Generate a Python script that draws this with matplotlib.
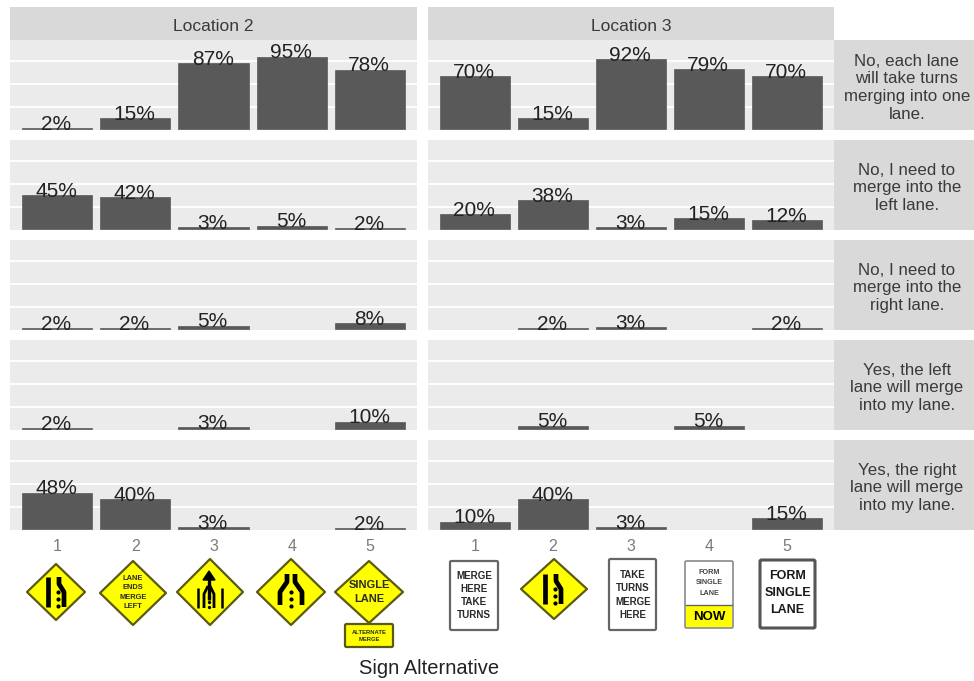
import matplotlib
matplotlib.use("Agg")
import matplotlib.pyplot as plt
from matplotlib.patches import Polygon, Rectangle, FancyBboxPatch

plt.rcParams['font.family'] = ['Liberation Sans', 'DejaVu Sans']

W, H = 974, 681
categories = [1, 2, 3, 4, 5]
locations = ["Location 2", "Location 3"]
responses = [
    "No, each lane\nwill take turns\nmerging into one\nlane.",
    "No, I need to\nmerge into the\nleft lane.",
    "No, I need to\nmerge into the\nright lane.",
    "Yes, the left\nlane will merge\ninto my lane.",
    "Yes, the right\nlane will merge\ninto my lane.",
]
loc2_each = [2, 15, 87, 95, 78]
loc2_left = [45, 42, 3, 5, 2]
loc2_right = [2, 2, 5, None, 8]
loc2_yes_left = [2, None, 3, None, 10]
loc2_yes_right = [48, 40, 3, None, 2]
loc3_each = [70, 15, 92, 79, 70]
loc3_left = [20, 38, 3, 15, 12]
loc3_right = [None, 2, 3, None, 2]
loc3_yes_left = [None, 5, None, 5, None]
loc3_yes_right = [10, 40, 3, None, 15]
grid_values = [30, 60, 90]

table = [
    [loc2_each, loc2_left, loc2_right, loc2_yes_left, loc2_yes_right],
    [loc3_each, loc3_left, loc3_right, loc3_yes_left, loc3_yes_right],
]

fig = plt.figure(figsize=(W / 100, H / 100), dpi=100, facecolor='white')


def px_axes(x0, y0, x1, y1, **kw):
    return fig.add_axes([x0 / W, 1 - y1 / H, (x1 - x0) / W, (y1 - y0) / H], **kw)


col_x = [(10, 417), (428, 834)]
row_y = [(40, 130), (140, 230), (240, 330), (340, 430), (440, 530)]
STRIP = '#D9D9D9'

for c, (x0, x1) in enumerate(col_x):
    s = px_axes(x0, 7, x1, 40, facecolor=STRIP)
    s.set_xticks([]); s.set_yticks([])
    for sp in s.spines.values():
        sp.set_visible(False)
    s.text(0.5, 0.41, locations[c], transform=s.transAxes, ha='center', va='center',
           fontsize=12.5, color='#3a3a3a')
    for r, (y0, y1) in enumerate(row_y):
        ax = px_axes(x0, y0, x1, y1, facecolor='#EBEBEB')
        vals = table[c][r]
        xs = [k for k, v in zip(categories, vals) if v is not None]
        ys = [v for v in vals if v is not None]
        ax.set_axisbelow(True)
        ax.bar(xs, ys, width=0.9, color='#595959', edgecolor='#595959', linewidth=0.5)
        for x, v in zip(xs, ys):
            ax.annotate(f"{v}%", (x, v), xytext=(-0.6, -1.2), textcoords='offset points',
                        ha='center', va='baseline', fontsize=15, color='#222222')
        ax.set_xlim(0.4, 5.6)
        ax.set_ylim(-0.7, 116.9)
        ax.set_yticks(grid_values)
        ax.tick_params(axis='y', length=0, labelleft=False)
        ax.grid(axis='y', color='white', lw=1.3)
        ax.grid(axis='x', visible=False)
        for sp in ax.spines.values():
            sp.set_visible(False)
        if r == 4:
            ax.set_xticks(categories)
            ax.set_xticklabels([str(k) for k in categories])
            ax.tick_params(axis='x', length=0, pad=6.5, labelsize=11.5, labelcolor='#7a7a7a')
        else:
            ax.set_xticks([])

for r, (y0, y1) in enumerate(row_y):
    s = px_axes(834, y0, 974, y1, facecolor=STRIP)
    s.set_xticks([]); s.set_yticks([])
    for sp in s.spines.values():
        sp.set_visible(False)
    s.text(0.52, 0.47, responses[r], transform=s.transAxes, ha='center', va='center',
           fontsize=12.2, color='#3a3a3a', linespacing=1.22)

fig.text(429 / W, 1 - 668 / H, "Sign Alternative", ha='center', va='center',
         fontsize=14.5, color='#222222')

# Sign artwork, drawn in pixel coordinates on a transparent overlay
ov = fig.add_axes([0, 0, 1, 1], facecolor='none', zorder=10)
ov.set_xlim(0, W); ov.set_ylim(H, 0); ov.axis('off')
YEL = '#FFFF00'
EDGE = '#5A5A14'


def diamond(cx, cy, hw, hh):
    ov.add_patch(Polygon([(cx - hw, cy), (cx, cy - hh), (cx + hw, cy), (cx, cy + hh)],
                         closed=True, fc=YEL, ec=EDGE, lw=1.6, joinstyle='round'))


def board(x0, y0, x1, y1, fc='white', ec='#666666', lw=1.6):
    ov.add_patch(FancyBboxPatch((x0 + 1, y0 + 1), x1 - x0 - 2, y1 - y0 - 2,
                                boxstyle='round,pad=1,rounding_size=1.5', fc=fc, ec=ec, lw=lw))


def words(x, y, s, size, color='#2a2a2a', ls=1.15, weight='bold'):
    ov.text(x, y, s, ha='center', va='center', fontsize=size, fontweight=weight,
            color=color, linespacing=ls)


def line(pts, lw=3.4):
    ov.plot([p[0] for p in pts], [p[1] for p in pts], color='black', lw=lw,
            solid_capstyle='butt', solid_joinstyle='round')


def dots(x, ys, ms=3.0):
    ov.plot([x] * len(ys), ys, ls='none', marker='o', ms=ms, color='black', mew=0)


def merge_glyph(cx, cy):
    line([(cx - 8, cy - 15), (cx - 8, cy + 15)])
    line([(cx + 3, cy - 15), (cx + 3, cy - 8), (cx + 8, cy), (cx + 8, cy + 15)])
    dots(cx + 1.5, [cy, cy + 7, cy + 14])


# Location 2
diamond(56, 592, 29, 28)
merge_glyph(56, 592)

diamond(133, 593, 33, 32)
words(133, 592.5, "LANE\nENDS\nMERGE\nLEFT", 5.4, ls=1.45)

diamond(210, 592, 33, 33)
line([(209, 600), (209, 578)], lw=2.4)
ov.add_patch(Polygon([(203, 580), (209, 571), (215, 580)], closed=True, fc='black', ec='black'))
line([(198, 588), (198, 608)], lw=1.8)
line([(222, 588), (222, 608)], lw=1.8)
line([(204, 608), (204, 594), (208, 586)], lw=2.0)
line([(214, 608), (214, 594), (210, 586)], lw=2.0)
dots(209, [597, 602, 607], ms=2.4)

diamond(291, 592, 34, 33)
line([(280, 605), (280, 592), (287, 582), (287, 574)])
line([(302, 605), (302, 592), (295, 582), (295, 574)])
dots(291, [592, 599, 606])

diamond(369, 592, 34, 31)
words(369, 592, "SINGLE\nLANE", 8.0, ls=1.4)
board(345, 624, 393, 647, fc=YEL, ec=EDGE, lw=1.6)
words(369, 636, "ALTERNATE\nMERGE", 4.2, ls=1.35)

# Location 3
board(450, 561, 498, 630)
words(474, 595.5, "MERGE\nHERE\nTAKE\nTURNS", 7.1, ls=1.35)

diamond(554, 589, 33, 30)
merge_glyph(553, 589)

board(609, 559, 656, 630)
words(633, 595, "TAKE\nTURNS\nMERGE\nHERE", 7.0, ls=1.45)

board(685, 561, 733, 628, ec='#8a8a8a', lw=1.2)
ov.add_patch(Rectangle((686, 605), 46, 22, fc=YEL, ec='none'))
ov.plot([686, 732], [605, 605], color='#666666', lw=1)
words(709, 583, "FORM\nSINGLE\nLANE", 5.2, color='#444444', ls=1.7)
words(709, 616.5, "NOW", 9.5, color='black')

board(760, 560, 815, 628, ec='#555555', lw=2.2)
words(787.5, 593, "FORM\nSINGLE\nLANE", 9.0, ls=1.6, color='#1a1a1a')

fig.savefig('out.png', dpi=100, facecolor='white')
